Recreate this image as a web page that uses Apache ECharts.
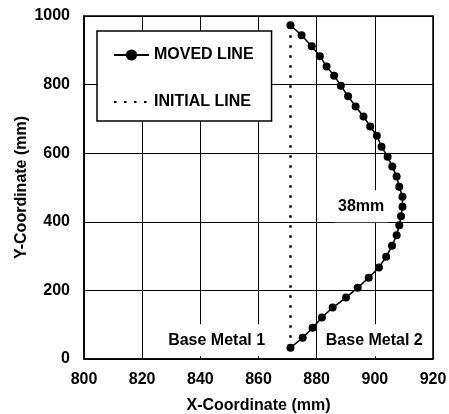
<!DOCTYPE html>
<html>
<head>
<meta charset="utf-8">
<script src="https://cdn.jsdelivr.net/npm/echarts@6/dist/echarts.min.js"></script>
<style>html,body{margin:0;padding:0;background:#fff;}#c{width:449px;height:414px;}</style>
</head>
<body>
<div id="c"></div>
<script>
// Data
const movedX = [871, 874.8, 878.3, 881.1, 883.4, 886.0, 888.3, 890.8, 893.4, 896.1, 898.4, 900.7, 902.3, 904.4, 906.0, 907.5, 908.4, 909.5, 909.5, 909.0, 908.4, 907.5, 905.9, 903.9, 901.4, 897.9, 894.1, 890.1, 885.5, 881.8, 878.6, 875.2, 871];
const movedY = [973, 944, 912, 883, 853, 826, 797, 766, 736, 707, 678, 651, 619, 590, 561, 532, 502, 473, 444, 416, 390, 361, 330, 298, 267, 237, 208, 179, 150, 121, 91, 62, 33];
const initialX = [871, 871];
const initialY = [973, 33];
const seriesNames = ['MOVED LINE', 'INITIAL LINE'];
const annotationText = ['38mm', 'Base Metal 1', 'Base Metal 2'];
const annotationX = [895.3, 845.6, 899.8];
const annotationY = [445, 55, 55];

const FONT = '"Liberation Sans", Arial, sans-serif';
const txt = {color: '#000', fontSize: 16, fontWeight: 'bold', fontFamily: FONT};

const movedData = movedX.map((x, i) => [x, movedY[i]]);
const initialData = initialX.map((x, i) => [x, initialY[i]]);
const annData = annotationX.map((x, i) => ({value: [x, annotationY[i]], name: annotationText[i]}));

const chart = echarts.init(document.getElementById('c'), null, {renderer: 'canvas'});
chart.setOption({
  animation: false,
  backgroundColor: '#fff',
  grid: {left: 84, top: 16, width: 349, height: 343, show: true, borderColor: '#000', borderWidth: 1.5, backgroundColor: 'transparent', containLabel: false, outerBoundsMode: 'none'},
  xAxis: {
    type: 'value', min: 800, max: 920, interval: 20,
    axisLine: {show: true, lineStyle: {color: '#000', width: 1.5}},
    axisTick: {show: false},
    splitLine: {show: true, lineStyle: {color: '#000', width: 1}},
    axisLabel: Object.assign({margin: 13, formatter: v => String(v)}, txt),
    name: 'X-Coordinate (mm)', nameLocation: 'middle', nameGap: 39,
    nameMoveOverlap: false,
    nameTextStyle: txt
  },
  yAxis: {
    type: 'value', min: 0, max: 1000, interval: 200,
    axisLine: {show: true, lineStyle: {color: '#000', width: 1.5}},
    axisTick: {show: false},
    splitLine: {show: true, lineStyle: {color: '#000', width: 1}},
    axisLabel: Object.assign({margin: 14, formatter: v => String(v)}, txt),
    name: 'Y-Coordinate (mm)', nameLocation: 'middle', nameGap: 54,
    nameMoveOverlap: false,
    nameTextStyle: txt
  },
  legend: {
    data: [
      {name: seriesNames[0]},
      {name: seriesNames[1], itemStyle: {opacity: 0}}
    ],
    orient: 'vertical',
    left: 97, top: 31,
    padding: [16, 18, 11, 16],
    itemWidth: 35, itemHeight: 14, itemGap: 31,
    backgroundColor: '#fff',
    borderColor: '#000', borderWidth: 1.5,
    textStyle: txt,
    z: 10
  },
  series: [
    {
      name: seriesNames[0], type: 'line', data: movedData,
      symbol: 'circle', symbolSize: 8, showSymbol: true,
      lineStyle: {color: '#000', width: 1.5},
      itemStyle: {color: '#000'},
      z: 5
    },
    {
      name: seriesNames[1], type: 'line', data: initialData,
      symbol: 'none',
      lineStyle: {color: '#000', width: 2.5, type: [2.5, 7.5]},
      itemStyle: {color: '#000'},
      z: 4
    },
    {
      name: 'annotations', type: 'scatter', data: annData,
      symbol: 'circle', symbolSize: 0, silent: true, z: 3,
      itemStyle: {opacity: 1, color: '#000'},
      label: {
        show: true, position: 'inside', formatter: p => p.name,
        backgroundColor: '#fff', padding: [8, 4],
        color: '#000', fontSize: 16, fontWeight: 'bold', fontFamily: FONT
      }
    }
  ]
});
</script>
</body>
</html>
